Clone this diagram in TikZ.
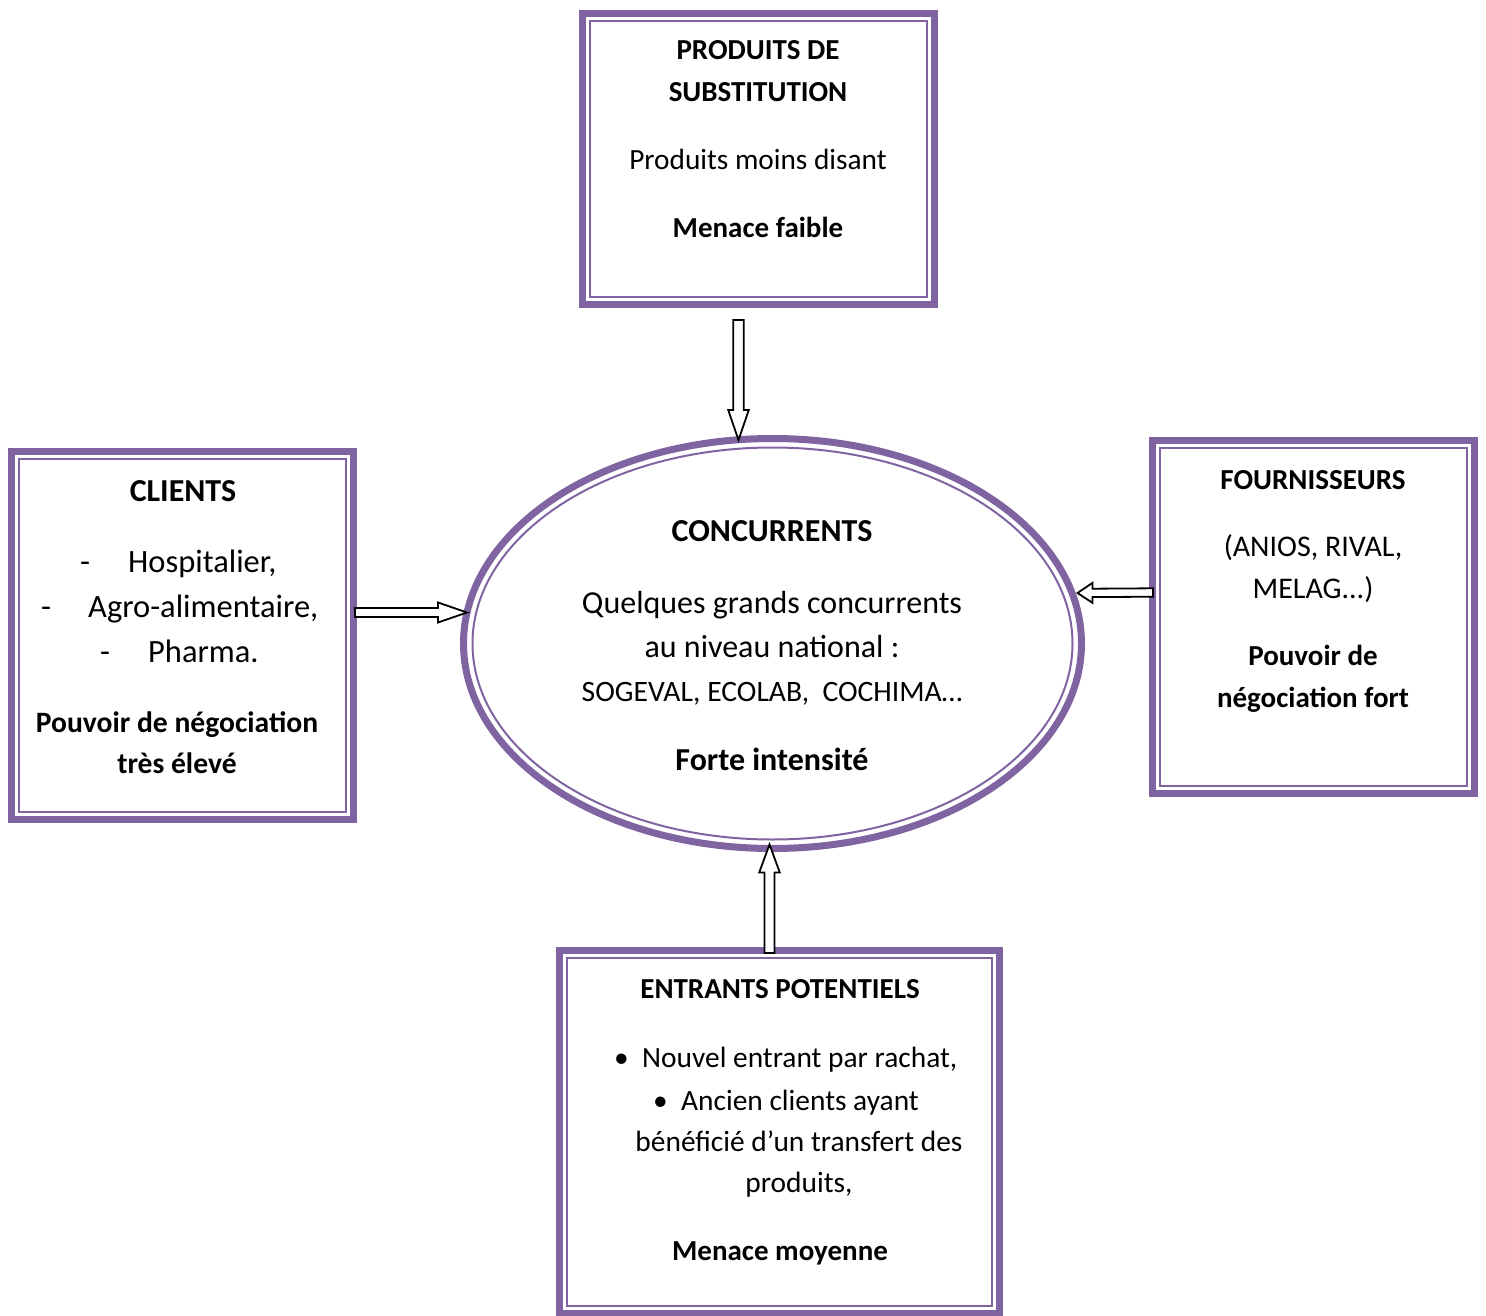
\documentclass[tikz,border=0pt]{standalone}
\usepackage{fontspec}
\setmainfont{Carlito}
\usetikzlibrary{shapes.geometric,calc}
\definecolor{vio}{HTML}{8064A2}
\tikzset{
  box/.style={draw=vio, line width=7pt, rectangle, inner sep=0pt},
  innerline/.style={draw=vio, line width=2pt},
  arrowline/.style={draw=black, line width=1.8pt, fill=white, line join=miter},
  txt/.style={inner sep=0pt, anchor=base, font=\fontsize{30}{36}\selectfont},
  txtbig/.style={inner sep=0pt, anchor=base, font=\fontsize{32}{38}\selectfont},
  txtsm/.style={inner sep=0pt, anchor=base, font=\fontsize{29.6}{35}\selectfont},
  txtb/.style={inner sep=0pt, anchor=base, font=\fontsize{29}{35}\selectfont\bfseries},
  txtbbig/.style={inner sep=0pt, anchor=base, font=\fontsize{32}{38}\selectfont\bfseries},
  lst/.style={inner sep=0pt, anchor=base west, font=\fontsize{30}{36}\selectfont},
}
\newcommand\blockarrow[5]{%
  \draw[arrowline] let \p1=(#1), \p2=(#2),
    \n1={veclen(\x2-\x1,\y2-\y1)}, \n2={atan2(\y2-\y1,\x2-\x1)} in
    [shift={(\p1)}, rotate=\n2]
    (0pt,-#4pt) -- (\n1-#3pt,-#4pt) -- (\n1-#3pt,-#5pt) -- (\n1,0pt)
    -- (\n1-#3pt,#5pt) -- (\n1-#3pt,#4pt) -- (0pt,#4pt) -- cycle;}
\newcommand\innerframe[1]{%
  \draw[innerline] ($(#1.north west)+(11,11)$) rectangle ($(#1.south east)+(-11,-11)$);}
\begin{document}
\begin{tikzpicture}[x=1pt,y=-1pt]
\useasboundingbox (0,0) rectangle (1486,1316);
% boxes
\node[box, minimum width=352pt, minimum height=291pt] (subst) at (758.5,159) {};
\node[box, minimum width=342pt, minimum height=368pt] (clients) at (182.5,635.5) {};
\node[box, minimum width=322pt, minimum height=353pt] (fourn) at (1313.5,617) {};
\node[box, minimum width=440pt, minimum height=362.5pt] (entr) at (779.5,1131.75) {};
\node[draw=vio, line width=7pt, ellipse, minimum width=618pt, minimum height=410pt, inner sep=0pt] (conc) at (772.5,643.5) {};
\innerframe{subst}
\innerframe{clients}
\innerframe{fourn}
\innerframe{entr}
\draw[innerline] (conc.center) ellipse [x radius=300pt, y radius=196pt];

% arrow end points
\coordinate (a1s) at ($(subst.south)+(-20,12)$);
\coordinate (a1e) at ($(conc.north)+(-34,5)$);
\coordinate (a2s) at ($(clients.east)+(-2,-23)$);
\coordinate (a2e) at ($(conc.west)+(7,-31)$);
\coordinate (a3s) at ($(fourn.west)+(4,-24.5)$);
\coordinate (a3e) at ($(conc.east)+(-7.5,-50.5)$);
\coordinate (a4s) at ($(entr.north)+(-10,6)$);
\coordinate (a4e) at ($(conc.south)+(-3,-7.5)$);
\blockarrow{a1s}{a1e}{30}{5.2}{10.3}
\blockarrow{a2s}{a2e}{29}{4.5}{10}
\blockarrow{a3s}{a3e}{15}{4.2}{10}
\blockarrow{a4s}{a4e}{28}{5}{10.3}

% texts: substitution
\node[txtb] (s1) at (758,60) {PRODUITS DE};
\node[txtb] (s2) at (758,102) {SUBSTITUTION};
\node[txt, font=\fontsize{29.3}{35}\selectfont] (s3) at (758,170) {Produits moins disant};
\node[txtb] (s4) at (758,238) {Menace faible};

% clients
\node[txtbbig] (c1) at (183,501) {CLIENTS};
\node[lst, font=\fontsize{32.5}{38}\selectfont] (c2) at (80,572) {\makebox[48pt][l]{-}Hospitalier,};
\node[lst, font=\fontsize{32.5}{38}\selectfont] (c3) at (41,617) {\makebox[47pt][l]{-}Agro-alimentaire,};
\node[lst, font=\fontsize{32.5}{38}\selectfont] (c4) at (100,662) {\makebox[48pt][l]{-}Pharma.};
\node[txtb, font=\fontsize{29.6}{35}\selectfont\bfseries] (c5) at (177,732) {Pouvoir de négociation};
\node[txtb, font=\fontsize{29.6}{35}\selectfont\bfseries] (c6) at (177,773) {très élevé};

% concurrents
\node[txtbbig] (k1) at (772,541) {CONCURRENTS};
\node[txtbig] (k2) at (772,613) {Quelques grands concurrents};
\node[txtbig] (k3) at (772,657) {au niveau national :};
\node[txtsm] (k4) at (772,701) {SOGEVAL, ECOLAB,\ \ COCHIMA…};
\node[txtbbig] (k5) at (772,770) {Forte intensité};

% fournisseurs
\node[txtb] (f1) at (1313,489) {FOURNISSEURS};
\node[txt] (f2) at (1313,556) {(ANIOS, RIVAL,};
\node[txt] (f3) at (1313,598) {MELAG...)};
\node[txtb] (f4) at (1313,665) {Pouvoir de};
\node[txtb] (f5) at (1313,707) {négociation fort};

% entrants
\node[txtb] (e1) at (780,998) {ENTRANTS POTENTIELS};
\node[lst, font=\fontsize{29.4}{35}\selectfont] (e2) at (614,1067) {\makebox[28pt][l]{•}Nouvel entrant par rachat,};
\node[lst, font=\fontsize{29.4}{35}\selectfont] (e3) at (653,1110) {\makebox[28pt][l]{•}Ancien clients ayant};
\node[txt, font=\fontsize{29.4}{35}\selectfont] (e4) at (799,1151) {bénéficié d’un transfert des};
\node[txt, font=\fontsize{29.4}{35}\selectfont] (e5) at (799,1192) {produits,};
\node[txtb] (e6) at (780,1260) {Menace moyenne};
\end{tikzpicture}
\end{document}
